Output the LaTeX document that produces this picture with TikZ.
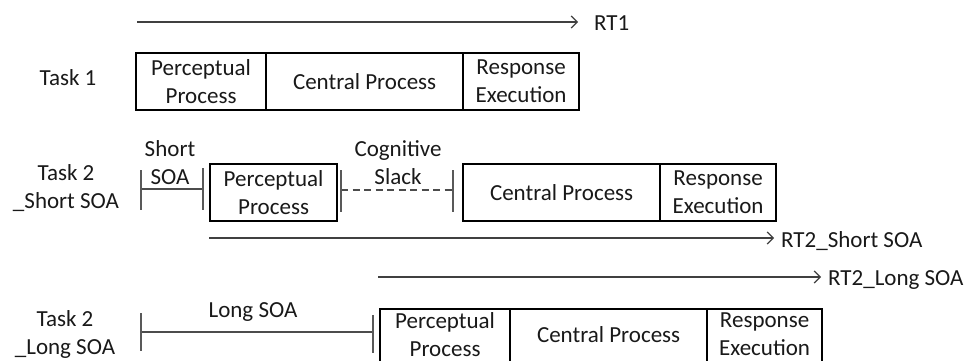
\documentclass[tikz,border=0pt]{standalone}
\usepackage{fontspec}
\setmainfont{Carlito}
\usetikzlibrary{arrows.meta}
\begin{document}
\begin{tikzpicture}[x=1pt,y=-1pt,
  txt/.style={font=\fontsize{23}{28}\selectfont, text=black!90},
  stage/.style={txt, draw=black, line width=2.2pt, minimum height=57pt,
    inner sep=0pt, anchor=north west, align=center},
  % bottom-row boxes run past the page edge; extra depth lifts their text
  lowstage/.style={stage, minimum height=60pt, text depth=10pt},
  lbl/.style={txt, align=center, inner sep=0pt},
  rtlbl/.style={txt, inner sep=0pt, anchor=base west},
  rtarrow/.style={draw=black!75, line width=1.2pt,
    -{Straight Barb[length=6pt,width=12pt,line width=1.2pt]}},
  marker/.style={draw=black!65, line width=1.6pt},
  span/.style={draw=black!70, line width=1.3pt}]

\useasboundingbox (0,0) rectangle (969,360);
\clip (0,0) rectangle (969,360);

% ---------- Task 1 ----------
\node[lbl] (task1) at (68,78) {Task 1};
\node[stage, minimum width=130pt] (t1p) at (135,52) {Perceptual\\Process};
\node[stage, minimum width=197pt] (t1c) at (265,52) {Central Process};
\node[stage, minimum width=116pt] (t1r) at (462,52) {Response\\Execution};

\node[rtlbl] (rt1) at (594,30.5) {RT1};
\coordinate (rt1s) at (137,22);
\draw[rtarrow, shorten >=16pt] (rt1s) -- (rt1s -| rt1.west);

% ---------- Task 2, short SOA ----------
\node[lbl] (task2s) at (66,188) {Task 2\\\_Short SOA};

\coordinate (ssoaL) at (141,189);
\coordinate (ssoaR) at (203,189);
\draw[span] (ssoaL) -- (ssoaR);
\draw[marker] (141,170) -- (141,210);
\draw[marker] (203,168) -- (203,210);
\node[lbl] (ssoa) at (170,162.5) {Short\\SOA};

\node[stage, minimum width=127pt] (s2p) at (209,163) {Perceptual\\Process};

\coordinate (slackL) at (341,190);
\coordinate (slackR) at (453,190);
\draw[span, dash pattern=on 7pt off 4.5pt] (slackL) -- (slackR);
\draw[marker] (341,170) -- (341,212);
\draw[marker] (453,170) -- (453,212);
\node[lbl] (slack) at (398,162.5) {Cognitive\\Slack};

\node[stage, minimum width=197pt] (s2c) at (462,163) {Central Process};
\node[stage, minimum width=116pt] (s2r) at (659,163) {Response\\Execution};

\node[rtlbl] (rt2s) at (781,247) {RT2\_Short SOA};
\coordinate (rt2ss) at (209,238);
\draw[rtarrow, shorten >=7pt] (rt2ss) -- (rt2ss -| rt2s.west);

% ---------- Task 2, long SOA ----------
\node[rtlbl] (rt2l) at (828,285) {RT2\_Long SOA};
\coordinate (rt2ls) at (378,277);
\draw[rtarrow, shorten >=7pt] (rt2ls) -- (rt2ls -| rt2l.west);

\node[lbl] (task2l) at (65,334) {Task 2\\\_Long SOA};

\coordinate (lsoaL) at (141,332);
\coordinate (lsoaR) at (373,332);
\draw[span] (lsoaL) -- (lsoaR);
\draw[marker] (141,313) -- (141,351);
\draw[marker] (373,315) -- (373,353);
\node[lbl] (lsoa) at (253,312) {Long SOA};

\node[lowstage, minimum width=130pt] (l2p) at (379,308) {Perceptual\\Process};
\node[lowstage, minimum width=197pt] (l2c) at (509,308) {Central Process};
\node[lowstage, minimum width=115pt] (l2r) at (706,308) {Response\\Execution};
\end{tikzpicture}
\end{document}
